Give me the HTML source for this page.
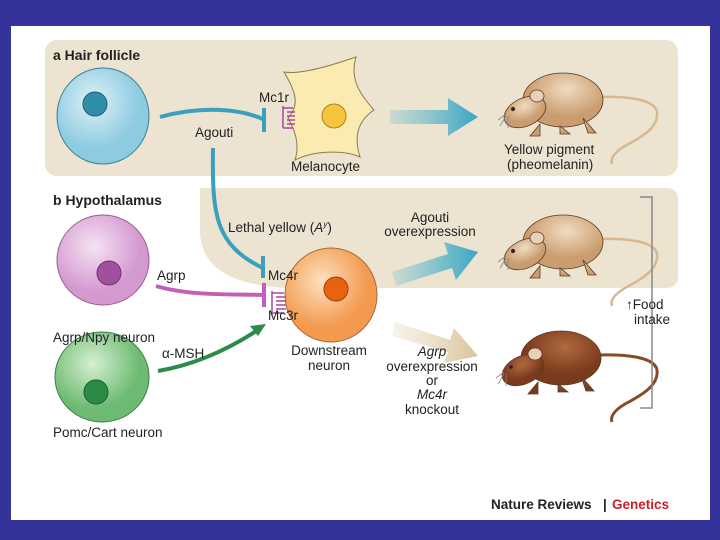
<!DOCTYPE html>
<html><head><meta charset="utf-8"><style>
body{margin:0;width:720px;height:540px;background:#33339a;overflow:hidden}
svg{display:block}
text{font-family:"Liberation Sans",sans-serif;fill:#222;font-size:13.5px}
</style></head><body>
<svg width="720" height="540" viewBox="0 0 720 540">
<defs>
<linearGradient id="bl" x1="0" x2="1"><stop offset="0" stop-color="#4eb6cc" stop-opacity="0.2"/><stop offset="1" stop-color="#3aa6c4"/></linearGradient>
<linearGradient id="tn" x1="0" x2="1"><stop offset="0" stop-color="#e8d8b8" stop-opacity="0.3"/><stop offset="1" stop-color="#d9c49a"/></linearGradient>
<radialGradient id="cb" cx="0.4" cy="0.35"><stop offset="0" stop-color="#dff1f8"/><stop offset="1" stop-color="#8ccbe0"/></radialGradient>
<radialGradient id="cp" cx="0.4" cy="0.35"><stop offset="0" stop-color="#f6e2f3"/><stop offset="1" stop-color="#d49ad0"/></radialGradient>
<radialGradient id="cg" cx="0.4" cy="0.35"><stop offset="0" stop-color="#d6efd2"/><stop offset="1" stop-color="#6dbb72"/></radialGradient>
<radialGradient id="co" cx="0.4" cy="0.35"><stop offset="0" stop-color="#fde0c0"/><stop offset="1" stop-color="#f39a4e"/></radialGradient>
<radialGradient id="mt" cx="0.55" cy="0.3"><stop offset="0" stop-color="#f1dcc0"/><stop offset="1" stop-color="#c99d70"/></radialGradient>
<radialGradient id="mb" cx="0.55" cy="0.3"><stop offset="0" stop-color="#b06a40"/><stop offset="1" stop-color="#7a3a1c"/></radialGradient>
<g id="mouse" stroke="#5a3a20" stroke-width="0.8">
<ellipse cx="563" cy="100" rx="40" ry="27"/>
<ellipse cx="525" cy="112" rx="22" ry="14" transform="rotate(-25 525 112)"/>
<path d="M540,124 l-10,12 h10 z M583,118 l5,15 h8 z M560,126 l0,8 h10 z"/>
<ellipse cx="537" cy="96" rx="7" ry="6" fill="#e9d0b8"/>
<circle cx="513" cy="109" r="1.8" fill="#222"/>
<path d="M506,114 l-8,6 M506,116 l-6,10 M508,116 l0,12" fill="none" stroke="#888"/>
</g>
</defs>
<rect x="11" y="26" width="699" height="494" fill="#fff"/>
<rect x="45" y="40" width="633" height="136" rx="12" fill="#ece3d1"/>
<path d="M200,188 H666 Q678,188 678,200 V276 Q678,288 666,288 H290 Q200,285 200,230 Z" fill="#ece3d1"/>
<text x="53" y="60" style="font-weight:bold;font-size:14px">a  Hair follicle</text>
<text x="53" y="205" style="font-weight:bold;font-size:14px">b  Hypothalamus</text>
<!-- cells -->
<ellipse cx="103" cy="116" rx="46" ry="48" fill="url(#cb)" stroke="#3c7f98"/>
<circle cx="95" cy="104" r="12" fill="#2f8fa8" stroke="#235f75"/>
<ellipse cx="103" cy="260" rx="46" ry="45" fill="url(#cp)" stroke="#9a5a95"/>
<circle cx="109" cy="273" r="12" fill="#a0509f" stroke="#703070"/>
<ellipse cx="102" cy="377" rx="47" ry="45" fill="url(#cg)" stroke="#3c7f48"/>
<circle cx="96" cy="392" r="12" fill="#2b8a45" stroke="#1e5e30"/>
<path d="M284,72 C300,75 330,66 356,57 C350,78 358,92 374,110 C362,118 352,132 360,157 C345,150 315,150 295,160 C300,145 295,130 288,118 C300,105 296,92 284,72 Z" fill="#fcebb0" stroke="#8a7a50"/>
<circle cx="334" cy="116" r="12" fill="#f6c43c" stroke="#a78520"/>
<ellipse cx="331" cy="295" rx="46" ry="47" fill="url(#co)" stroke="#a66a3a"/>
<circle cx="336" cy="289" r="12" fill="#e8620f" stroke="#a04008"/>
<!-- receptors -->
<path d="M283,106 v22 M283,108 h10 M287,112 h8 M287,116 h8 M287,120 h8 M287,124 h8 M283,128 h10" stroke="#a64aa0" stroke-width="1.5" fill="none"/>
<path d="M272,291 v24 M272,293 h12 M276,297 h10 M276,301 h10 M276,305 h10 M276,309 h10 M272,313 h12" stroke="#a64aa0" stroke-width="1.5" fill="none"/>
<!-- connectors -->
<path d="M160,117 C200,106 240,108 265,120" stroke="#3aa0bd" stroke-width="4" fill="none"/>
<path d="M264,108 v24" stroke="#3aa0bd" stroke-width="4"/>
<path d="M213,148 C212,215 215,245 263,268" stroke="#3aa0bd" stroke-width="4" fill="none"/>
<path d="M263,256 v22" stroke="#3aa0bd" stroke-width="4"/>
<path d="M156,286 C190,296 230,294 264,295" stroke="#c060b8" stroke-width="4" fill="none"/>
<path d="M264,283 v24" stroke="#c060b8" stroke-width="4"/>
<path d="M158,371 C200,364 235,345 258,330" stroke="#2c8a4a" stroke-width="4" fill="none"/>
<path d="M266,324 l-16,2 l8,10 z" fill="#2c8a4a"/>
<!-- big arrows -->
<path d="M390,110 H448 V98 L478,117 L448,136 V124 H390 Z" fill="url(#bl)"/>
<path d="M392,272 L448,254 L444,242 L478,252 L456,280 L452,268 L396,286 Z" fill="url(#bl)"/>
<path d="M395,322 L450,340 L454,328 L478,356 L444,363 L448,352 L392,336 Z" fill="url(#tn)"/>
<!-- mice -->
<path d="M600,97 C630,96 655,100 657,112 C659,128 640,138 625,146 C615,152 610,158 612,164" fill="none" stroke="#d8b890" stroke-width="2.5"/>
<path d="M600,239 C630,238 655,242 657,254 C659,270 640,280 625,288 C615,294 610,300 612,306" fill="none" stroke="#d8b890" stroke-width="2.5"/>
<path d="M598,355 C630,354 655,358 657,370 C659,386 640,396 625,404 C615,410 610,416 612,422" fill="none" stroke="#8a4a28" stroke-width="3"/>
<use href="#mouse" fill="url(#mt)"/>
<use href="#mouse" fill="url(#mt)" transform="translate(0,142)"/>
<use href="#mouse" fill="url(#mb)" transform="translate(-2,258)"/>
<path d="M640,197 H652 V408 H640" stroke="#888" stroke-width="1.5" fill="none"/>
<!-- labels -->
<text x="259" y="102">Mc1r</text>
<text x="195" y="137">Agouti</text>
<text x="291" y="171">Melanocyte</text>
<text x="504" y="154">Yellow pigment</text>
<text x="507" y="169">(pheomelanin)</text>
<text x="228" y="232">Lethal yellow (<tspan font-style="italic">A</tspan><tspan font-style="italic" font-size="8" dy="-5">y</tspan><tspan dy="5">)</tspan></text>
<text x="430" y="222" text-anchor="middle">Agouti</text>
<text x="430" y="236" text-anchor="middle">overexpression</text>
<text x="157" y="280">Agrp</text>
<text x="268" y="280">Mc4r</text>
<text x="268" y="320">Mc3r</text>
<text x="53" y="342">Agrp/Npy neuron</text>
<text x="162" y="358">α-MSH</text>
<text x="329" y="355" text-anchor="middle">Downstream</text>
<text x="329" y="370" text-anchor="middle">neuron</text>
<text x="432" y="356" text-anchor="middle" font-style="italic">Agrp</text>
<text x="432" y="371" text-anchor="middle">overexpression</text>
<text x="432" y="385" text-anchor="middle">or</text>
<text x="432" y="399" text-anchor="middle" font-style="italic">Mc4r</text>
<text x="432" y="414" text-anchor="middle">knockout</text>
<text x="53" y="437">Pomc/Cart neuron</text>
<text x="626" y="309">↑Food</text>
<text x="634" y="324">intake</text>
<text x="491" y="509" style="font-weight:bold;font-size:13.5px">Nature Reviews</text>
<text x="603" y="509" style="font-weight:bold;font-size:13.5px">|</text>
<text x="612" y="509" style="font-weight:bold;font-size:13.5px;fill:#c8202a">Genetics</text>
</svg>
</body></html>
